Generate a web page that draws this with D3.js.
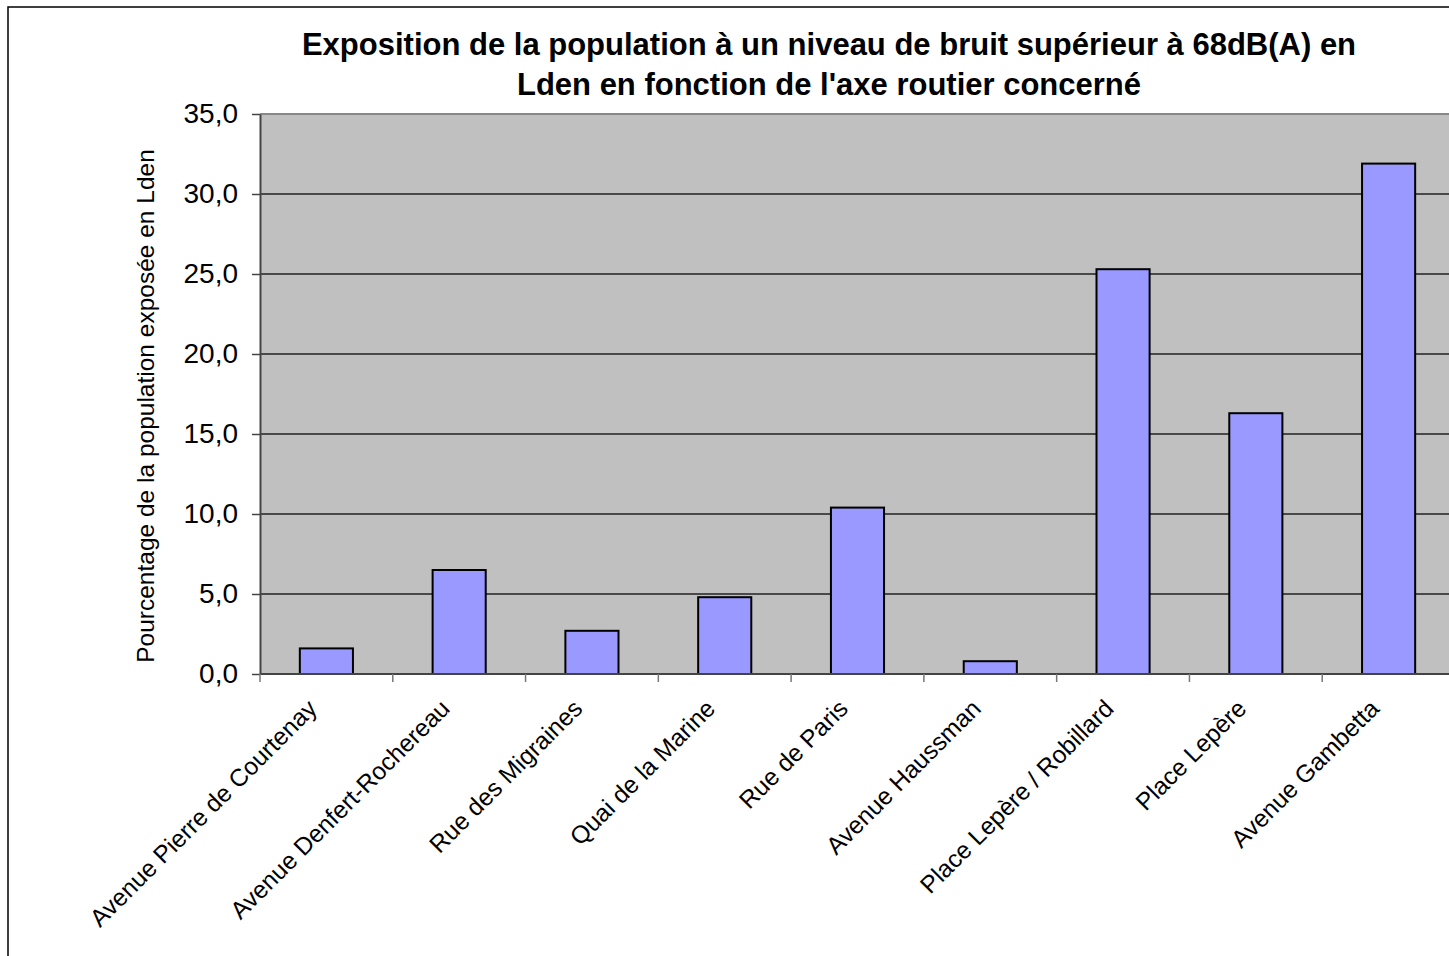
<!DOCTYPE html>
<html>
<head>
<meta charset="utf-8">
<script src="https://cdn.jsdelivr.net/npm/d3@7"></script>
<style>
  body { margin: 0; background: #fff; }
  svg { display: block; font-family: "Liberation Sans", Arial, sans-serif; }
</style>
</head>
<body>
<div id="chart"></div>
<script>
// data
var categories = ["Avenue Pierre de Courtenay", "Avenue Denfert-Rochereau", "Rue des Migraines",
  "Quai de la Marine", "Rue de Paris", "Avenue Haussman", "Place Lepère / Robillard",
  "Place Lepère", "Avenue Gambetta"];
var values = [1.6, 6.5, 2.7, 4.8, 10.4, 0.8, 25.3, 16.3, 31.9];
var yTicks = [0, 5, 10, 15, 20, 25, 30, 35];
var titleLines = ["Exposition de la population à un niveau de bruit supérieur à 68dB(A) en",
  "Lden en fonction de l'axe routier concerné"];
var yTitle = "Pourcentage de la population exposée en Lden";

var width = 1449, height = 956;
var plot = { left: 260, top: 114, right: 1455, bottom: 674 };

var fr = d3.formatLocale({ decimal: ",", thousands: " ", grouping: [3], currency: ["", " €"] });
var fmt = fr.format(".1f");

var svg = d3.select("#chart").append("svg")
    .attr("width", width)
    .attr("height", height);

// outer chart border (cut by the picture on the right and bottom)
svg.append("rect")
    .attr("x", 8).attr("y", 7)
    .attr("width", 1600).attr("height", 1200)
    .attr("fill", "#fff")
    .attr("stroke", "#000")
    .attr("stroke-width", 1.5);

var x = d3.scaleBand()
    .domain(categories)
    .range([plot.left, plot.right])
    .paddingInner(0.6)
    .paddingOuter(0.3);

var y = d3.scaleLinear()
    .domain([0, 35])
    .range([plot.bottom, plot.top]);

// plot background
svg.append("rect")
    .attr("x", plot.left).attr("y", plot.top)
    .attr("width", plot.right - plot.left)
    .attr("height", plot.bottom - plot.top)
    .attr("fill", "#c0c0c0");

// gridlines
svg.append("g").selectAll("line")
    .data(yTicks.filter(function (d) { return d > 0 && d < 35; }))
    .enter().append("line")
    .attr("x1", plot.left).attr("x2", plot.right)
    .attr("y1", function (d) { return y(d); })
    .attr("y2", function (d) { return y(d); })
    .attr("stroke", "#222")
    .attr("stroke-width", 1.5);

// top border of plot area
svg.append("line")
    .attr("x1", plot.left).attr("x2", plot.right)
    .attr("y1", plot.top).attr("y2", plot.top)
    .attr("stroke", "#888").attr("stroke-width", 2);

// bars
svg.append("g").selectAll("rect")
    .data(values)
    .enter().append("rect")
    .attr("x", function (d, i) { return x(categories[i]); })
    .attr("y", function (d) { return y(d); })
    .attr("width", x.bandwidth())
    .attr("height", function (d) { return y(0) - y(d); })
    .attr("fill", "#9999ff")
    .attr("stroke", "#000")
    .attr("stroke-width", 2);

// y axis
var yAxis = d3.axisLeft(y)
    .tickValues(yTicks)
    .tickFormat(fmt)
    .tickSizeInner(8)
    .tickSizeOuter(0)
    .tickPadding(14);

var gy = svg.append("g")
    .attr("transform", "translate(" + plot.left + ",0)")
    .call(yAxis);
gy.select(".domain").attr("stroke", "#444").attr("stroke-width", 2);
gy.selectAll(".tick line").attr("stroke", "#444").attr("stroke-width", 1.5);
gy.selectAll(".tick text")
    .attr("font-size", 28)
    .attr("font-family", "'Liberation Sans', Arial, sans-serif")
    .attr("fill", "#000");

// x axis: ticks between categories
var step = x.step();
var xTickPos = d3.range(categories.length + 1).map(function (i) { return plot.left + i * step; });

svg.append("line")
    .attr("x1", plot.left).attr("x2", plot.right)
    .attr("y1", plot.bottom).attr("y2", plot.bottom)
    .attr("stroke", "#444").attr("stroke-width", 2);

svg.append("g").selectAll("line")
    .data(xTickPos)
    .enter().append("line")
    .attr("x1", function (d) { return d; })
    .attr("x2", function (d) { return d; })
    .attr("y1", plot.bottom)
    .attr("y2", plot.bottom + 8)
    .attr("stroke", "#777")
    .attr("stroke-width", 1.5);

svg.append("g").selectAll("text")
    .data(categories)
    .enter().append("text")
    .attr("transform", function (d) {
      var cx = x(d) + x.bandwidth() / 2 - 8;
      return "translate(" + cx + "," + (plot.bottom + 36) + ") rotate(-45)";
    })
    .attr("text-anchor", "end")
    .attr("font-size", 24.5)
    .attr("fill", "#000")
    .text(function (d) { return d; });

// y title
svg.append("text")
    .attr("transform", "translate(154," + 406 + ") rotate(-90)")
    .attr("text-anchor", "middle")
    .attr("font-size", 24.5)
    .attr("fill", "#000")
    .text(yTitle);

// title
svg.append("g").selectAll("text")
    .data(titleLines)
    .enter().append("text")
    .attr("x", 829)
    .attr("y", function (d, i) { return 55 + i * 40; })
    .attr("text-anchor", "middle")
    .attr("font-size", 31)
    .attr("font-weight", "bold")
    .attr("fill", "#000")
    .text(function (d) { return d; });
</script>
</body>
</html>
